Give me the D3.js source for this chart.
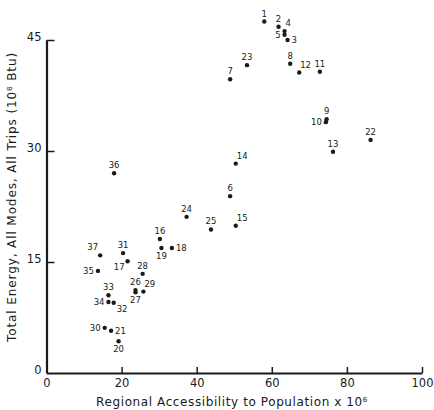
<!DOCTYPE html>
<html><head><meta charset="utf-8">
<script src="https://cdn.jsdelivr.net/npm/d3@7"></script>
<style>body{margin:0;background:#fff}svg{display:block}text{font-family:"DejaVu Sans",sans-serif;fill:#1a1a1a}</style>
</head><body><svg id="c" width="434" height="410"></svg>
<script>
const ids = [1,2,3,4,5,6,7,8,9,10,11,12,13,14,15,16,17,18,19,20,21,22,23,24,25,26,27,28,29,30,31,32,33,34,35,36,37];
const accessibility = [58.0,61.8,64.2,63.4,63.4,48.9,48.9,64.9,74.6,74.4,72.8,67.3,76.3,50.4,50.4,30.2,21.6,33.4,30.6,19.2,17.2,86.3,53.4,37.3,43.8,23.7,23.7,25.6,25.8,15.5,20.4,17.9,16.5,16.5,13.7,18.0,14.3];
const energy = [47.5,46.8,45.0,46.2,45.7,23.9,39.7,41.8,34.3,33.9,40.7,40.6,29.9,28.3,19.9,18.1,15.1,16.9,16.9,4.3,5.7,31.5,41.6,21.1,19.4,11.2,10.9,13.4,11.0,6.1,16.2,9.5,10.5,9.6,13.8,27.0,15.9];
const labelSide = ["n","n","e","ne","w","n","n","n","n","w","n","ne","n","ne","ne","n","sw","e","s","s","e","n","n","n","n","n","s","n","ne","w","n","se","n","w","w","n","nw"];
const xTicks = [0,20,40,60,80,100];
const yTicks = [0,15,30,45];

const svg = d3.select("#c");
const x = d3.scaleLinear().domain([0,100]).range([46.5,422]);
const y = d3.scaleLinear().domain([0,45]).range([373,40]);

const ink = "#1a1a1a";
const gx = svg.append("g").attr("transform",`translate(0,${y(0)})`)
  .call(d3.axisBottom(x).tickValues(xTicks).tickSizeInner(0).tickSizeOuter(0).tickPadding(6));
const gy = svg.append("g").attr("transform",`translate(${x(0)},0)`)
  .call(d3.axisLeft(y).tickValues(yTicks).tickSizeInner(0).tickSizeOuter(0).tickPadding(5));
[gx,gy].forEach(g=>{
  g.select(".domain").attr("stroke",ink).attr("stroke-width",2.2);
  g.selectAll(".tick text").attr("font-size",11.5).attr("fill",ink).style("font-family","DejaVu Sans, sans-serif");
});
gx.selectAll(".tick").filter(d=>d!==0).append("line")
  .attr("y1",0).attr("y2",-6).attr("stroke",ink).attr("stroke-width",1.5);
gy.selectAll(".tick").filter(d=>d!==0).append("line")
  .attr("x1",0).attr("x2",8).attr("stroke",ink).attr("stroke-width",1.5);
gy.selectAll(".tick text").attr("dy","0.05em");

const off = {n:[0,-5,"middle"], s:[0,11,"middle"], e:[4,3,"start"], w:[-4,3,"end"],
  ne:[1,-5,"start"], nw:[-2,-5,"end"], se:[3,9,"start"], sw:[-3,9,"end"]};

const data = ids.map((id,i)=>({id, ax:accessibility[i], en:energy[i], side:labelSide[i]}));
svg.append("g").selectAll("circle").data(data).join("circle")
  .attr("cx",d=>x(d.ax)).attr("cy",d=>y(d.en)).attr("r",2.2).attr("fill",ink);
svg.append("g").selectAll("text").data(data).join("text")
  .attr("x",d=>x(d.ax)+off[d.side][0]).attr("y",d=>y(d.en)+off[d.side][1])
  .attr("text-anchor",d=>off[d.side][2]).attr("font-size",8.5).text(d=>d.id);

const xt = svg.append("text").attr("x",232).attr("y",406).attr("text-anchor","middle")
  .attr("font-size",12).attr("letter-spacing",0.6);
xt.append("tspan").text("Regional Accessibility to Population  x  10");
xt.append("tspan").attr("dy",-4).attr("font-size",7).text("6");

const yt = svg.append("text").attr("transform","translate(16,197) rotate(-90)").attr("text-anchor","middle")
  .attr("font-size",12).attr("letter-spacing",0.9);
yt.append("tspan").text("Total Energy, All Modes, All Trips (10");
yt.append("tspan").attr("dy",-4).attr("font-size",7).text("8");
yt.append("tspan").attr("dy",4).text(" Btu)");
</script></body></html>
